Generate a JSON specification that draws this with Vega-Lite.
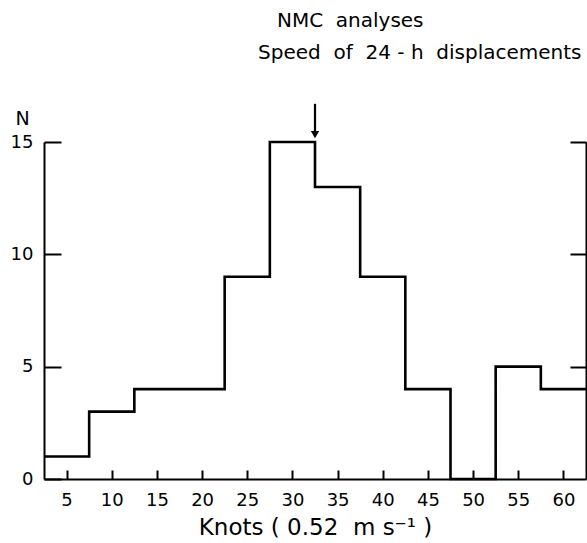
{
  "$schema": "https://vega.github.io/schema/vega-lite/v6.json",
  "autosize": "none",
  "width": 542,
  "height": 337,
  "padding": {"left": 44, "top": 142, "right": 1, "bottom": 64},
  "background": "white",
  "config": {
    "view": {"stroke": null},
    "font": "DejaVu Sans",
    "axis": {
      "grid": false,
      "domainColor": "black",
      "domainWidth": 2,
      "tickColor": "black",
      "tickWidth": 2,
      "labelColor": "black",
      "labelFont": "DejaVu Sans",
      "labelFontSize": 18,
      "titleColor": "black",
      "titleFont": "DejaVu Sans",
      "titleFontWeight": "normal"
    }
  },
  "datasets": {
    "hist": [
      {"knots": 2.5, "n": 1},
      {"knots": 7.5, "n": 3},
      {"knots": 12.5, "n": 4},
      {"knots": 17.5, "n": 4},
      {"knots": 22.5, "n": 9},
      {"knots": 27.5, "n": 15},
      {"knots": 32.5, "n": 13},
      {"knots": 37.5, "n": 9},
      {"knots": 42.5, "n": 4},
      {"knots": 47.5, "n": 0},
      {"knots": 52.5, "n": 5},
      {"knots": 57.5, "n": 4},
      {"knots": 62.5, "n": 4}
    ],
    "arrow": [{"knots": 32.5, "top": 16.7, "bottom": 15.4, "tip": 15.33}],
    "titles": [
      {"label": "NMC\u00a0\u00a0analyses", "knots": 36.4, "n": 20.4},
      {"label": "Speed\u00a0\u00a0of\u00a0\u00a024\u00a0-\u00a0h\u00a0\u00a0displacements", "knots": 44.1, "n": 18.95}
    ]
  },
  "resolve": {"axis": {"y": "independent"}},
  "layer": [
    {
      "data": {"name": "hist"},
      "mark": {"type": "line", "interpolate": "step-after", "color": "black", "strokeWidth": 2.6},
      "encoding": {
        "x": {
          "field": "knots", "type": "quantitative",
          "scale": {"domain": [2.5, 62.5], "nice": false, "zero": false},
          "axis": {
            "values": [5, 10, 15, 20, 25, 30, 35, 40, 45, 50, 55, 60],
            "tickSize": -9,
            "labelPadding": 21,
            "title": "Knots\u00a0( 0.52\u00a0\u00a0m\u00a0s⁻¹ )",
            "titleFontSize": 23,
            "titlePadding": 7
          }
        },
        "y": {
          "field": "n", "type": "quantitative",
          "scale": {"domain": [0, 15], "nice": false},
          "axis": {
            "values": [0, 5, 10, 15],
            "tickSize": -17,
            "labelPadding": 28,
            "title": "N",
            "titleAngle": 0,
            "titleX": -22,
            "titleY": -24,
            "titleAlign": "center",
            "titleBaseline": "middle",
            "titleFontSize": 19
          }
        }
      }
    },
    {
      "data": {"name": "hist"},
      "mark": {"type": "point", "opacity": 0},
      "encoding": {
        "x": {"field": "knots", "type": "quantitative"},
        "y": {
          "field": "n", "type": "quantitative",
          "axis": {"orient": "right", "values": [5, 10, 15], "tickSize": -16, "labels": false, "title": null}
        }
      }
    },
    {
      "data": {"name": "arrow"},
      "mark": {"type": "rule", "color": "black", "strokeWidth": 2.2, "clip": false},
      "encoding": {
        "x": {"field": "knots", "type": "quantitative"},
        "y": {"field": "top", "type": "quantitative", "axis": null},
        "y2": {"field": "bottom"}
      }
    },
    {
      "data": {"name": "arrow"},
      "mark": {"type": "point", "shape": "triangle-down", "filled": true, "color": "black", "size": 70, "opacity": 1, "clip": false},
      "encoding": {
        "x": {"field": "knots", "type": "quantitative"},
        "y": {"field": "tip", "type": "quantitative", "axis": null}
      }
    },
    {
      "data": {"name": "titles"},
      "mark": {"type": "text", "fontSize": 20, "color": "black", "align": "center", "baseline": "middle", "clip": false},
      "encoding": {
        "x": {"field": "knots", "type": "quantitative"},
        "y": {"field": "n", "type": "quantitative", "axis": null},
        "text": {"field": "label"}
      }
    }
  ]
}
